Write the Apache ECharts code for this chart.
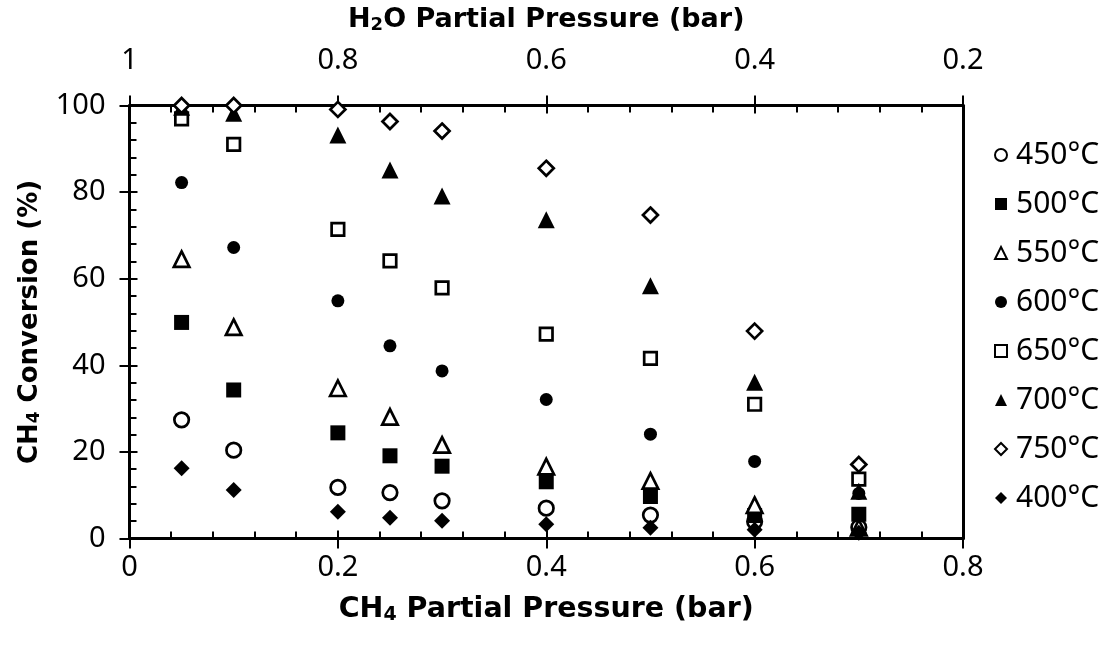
<!DOCTYPE html>
<html>
<head>
<meta charset="utf-8">
<script src="https://cdn.jsdelivr.net/npm/echarts@6/dist/echarts.min.js"></script>
<style>
html,body{margin:0;padding:0;background:#fff;}
#c{width:1115px;height:657px;}
</style>
</head>
<body>
<div id="c"></div>
<script>
// CH4 partial pressure (bar)
const xCH4 = [0.05, 0.1, 0.2, 0.25, 0.3, 0.4, 0.5, 0.6, 0.7];
// CH4 conversion (%) per temperature
const conv450 = [27.4, 20.4, 11.8, 10.6, 8.7, 7.0, 5.4, 3.9, 2.6];
const conv500 = [49.9, 34.3, 24.4, 19.1, 16.7, 13.1, 9.7, 5.3, 5.6];
const conv550 = [64.5, 48.8, 34.7, 28.1, 21.6, 16.6, 13.3, 7.7, 2.5];
const conv600 = [82.2, 67.2, 54.9, 44.5, 38.7, 32.1, 24.1, 17.8, 10.4];
const conv650 = [96.9, 91.0, 71.4, 64.1, 57.9, 47.2, 41.6, 31.0, 13.7];
const conv700 = [99.6, 98.2, 93.2, 85.1, 79.1, 73.6, 58.4, 36.1, 10.9];
const conv750 = [100, 100, 99.1, 96.3, 94.1, 85.5, 74.7, 47.9, 17.1];
const conv400 = [16.2, 11.2, 6.2, 4.8, 4.1, 3.3, 2.5, 2.0, 1.3];
const seriesNames = ['450°C', '500°C', '550°C', '600°C', '650°C', '700°C', '750°C', '400°C'];
const xTickLabels = ['0', '0.2', '0.4', '0.6', '0.8'];
const topTickLabels = ['1', '0.8', '0.6', '0.4', '0.2'];
const yTickLabels = ['0', '20', '40', '60', '80', '100'];

const REG = 'Noto Sans';
const BOLD = 'DejaVu Sans';
const allData = [conv450, conv500, conv550, conv600, conv650, conv700, conv750, conv400];
const styles = [
  {symbol: 'circle', size: 14.5, open: true},
  {symbol: 'rect', size: 15, open: false},
  {symbol: 'triangle', size: 15.5, open: true},
  {symbol: 'circle', size: 13, open: false},
  {symbol: 'rect', size: 12.5, open: true},
  {symbol: 'triangle', size: 17, open: false},
  {symbol: 'diamond', size: 15, open: true},
  {symbol: 'diamond', size: 16, open: false}
];

const series = seriesNames.map((name, i) => ({
  name: name,
  type: 'scatter',
  xAxisIndex: 0,
  yAxisIndex: 0,
  symbol: styles[i].symbol,
  symbolSize: styles[i].size,
  clip: false,
  itemStyle: styles[i].open
    ? {color: '#fff', borderColor: '#000', borderWidth: 2.7, opacity: 1}
    : {color: '#000', borderWidth: 0, opacity: 1},
  emphasis: {disabled: true},
  data: xCH4.map((x, k) => [x, allData[i][k]])
}));

const lineStyle = {color: '#000', width: 3};
const tickStyle = {color: '#000', width: 2};
function titleStyle(fs) {
  return {
    fontFamily: BOLD, fontWeight: 'bold', fontSize: fs, color: '#000',
    rich: {
      b: {fontFamily: BOLD, fontWeight: 'bold', fontSize: fs, color: '#000'},
      sub: {fontFamily: BOLD, fontWeight: 'bold', fontSize: Math.round(fs * 0.66), color: '#000', verticalAlign: 'bottom', padding: [Math.round(fs * 0.4), 0, 0, 0]}
    }
  };
}
const labelStyle = {fontFamily: REG, fontSize: 29, color: '#000'};

const gridRect = {left: 129.5, top: 105.5, width: 833.5, height: 433};

const option = {
  animation: false,
  backgroundColor: '#fff',
  grid: [Object.assign({}, gridRect), Object.assign({}, gridRect)],
  legend: {
    orient: 'vertical',
    left: 989,
    top: 135,
    itemWidth: 12,
    itemHeight: 12,
    itemGap: 19,
    data: seriesNames,
    itemStyle: {opacity: 1},
    textStyle: {fontFamily: REG, fontSize: 30, color: '#000', lineHeight: 30, padding: [0, 0, 0, 4]}
  },
  xAxis: [
    {
      gridIndex: 0, type: 'value', position: 'bottom', min: 0, max: 0.8, interval: 0.2,
      axisLine: {show: true, onZero: false, lineStyle: lineStyle},
      axisTick: {show: true, inside: true, length: 8, lineStyle: tickStyle},
      minorTick: {show: true, splitNumber: 5, length: 7, lineStyle: tickStyle},
      splitLine: {show: false},
      axisLabel: Object.assign({margin: 15, formatter: (v) => xTickLabels[Math.round(v / 0.2)]}, labelStyle),
      name: '{b|CH}{sub|4}{b| Partial Pressure (bar)}',
      nameLocation: 'middle', nameGap: 56, nameTextStyle: titleStyle(28.5)
    },
    {
      gridIndex: 0, type: 'value', position: 'top', min: 0.2, max: 1, interval: 0.2, inverse: true,
      axisLine: {show: true, onZero: false, lineStyle: lineStyle},
      axisTick: {show: true, inside: true, length: 8, lineStyle: tickStyle},
      minorTick: {show: true, splitNumber: 5, length: 7, lineStyle: tickStyle},
      splitLine: {show: false},
      axisLabel: Object.assign({margin: 30, formatter: (v) => topTickLabels[Math.round((1 - v) / 0.2)]}, labelStyle),
      name: '{b|H}{sub|2}{b|O Partial Pressure (bar)}',
      nameLocation: 'middle', nameGap: 71, nameTextStyle: titleStyle(27)
    },
    {
      gridIndex: 1, type: 'value', position: 'bottom', min: 0, max: 0.8, interval: 0.2,
      axisLine: {show: false, onZero: false},
      axisTick: {show: true, inside: false, length: 10, lineStyle: tickStyle},
      splitLine: {show: false}, axisLabel: {show: false}
    },
    {
      gridIndex: 1, type: 'value', position: 'top', min: 0, max: 0.8, interval: 0.2,
      axisLine: {show: false, onZero: false},
      axisTick: {show: true, inside: false, length: 10, lineStyle: tickStyle},
      splitLine: {show: false}, axisLabel: {show: false}
    }
  ],
  yAxis: [
    {
      gridIndex: 0, type: 'value', position: 'left', min: 0, max: 100, interval: 20,
      axisLine: {show: true, onZero: false, lineStyle: lineStyle},
      axisTick: {show: true, inside: true, length: 8, lineStyle: tickStyle},
      minorTick: {show: true, splitNumber: 5, length: 7, lineStyle: tickStyle},
      splitLine: {show: false},
      axisLabel: Object.assign({margin: 24, formatter: (v) => yTickLabels[Math.round(v / 20)]}, labelStyle),
      name: '{b|CH}{sub|4}{b| Conversion (%)}',
      nameLocation: 'middle', nameRotate: 90, nameGap: 86, nameTextStyle: titleStyle(26)
    },
    {
      gridIndex: 0, type: 'value', position: 'right', min: 0, max: 100, interval: 20,
      axisLine: {show: true, onZero: false, lineStyle: lineStyle},
      axisTick: {show: false}, splitLine: {show: false}, axisLabel: {show: false}
    },
    {
      gridIndex: 1, type: 'value', position: 'left', min: 0, max: 100, interval: 20,
      axisLine: {show: false, onZero: false},
      axisTick: {show: true, inside: false, length: 10, lineStyle: tickStyle},
      splitLine: {show: false}, axisLabel: {show: false}
    }
  ],
  series: series
};

const chart = echarts.init(document.getElementById('c'), null, {renderer: 'canvas'});
chart.setOption(option);
</script>
</body>
</html>
